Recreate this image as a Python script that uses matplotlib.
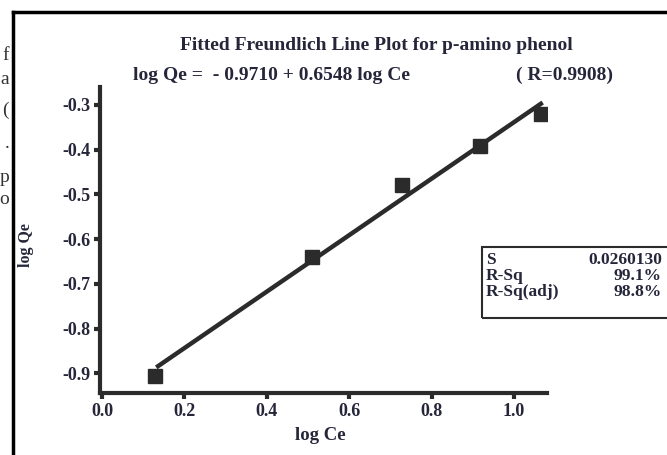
import matplotlib
matplotlib.use("Agg")
import matplotlib.pyplot as plt
import numpy as np

# data
log_ce = [0.129, 0.509, 0.729, 0.917, 1.065]
log_qe = [-0.905, -0.639, -0.479, -0.391, -0.321]
intercept = -0.9710
slope = 0.6548
r_value = 0.9908
x_ticks = [0.0, 0.2, 0.4, 0.6, 0.8, 1.0]
y_ticks = [-0.9, -0.8, -0.7, -0.6, -0.5, -0.4, -0.3]
stat_names = ["S", "R-Sq", "R-Sq(adj)"]
stat_values = ["0.0260130", "99.1%", "98.8%"]
side_text = ["f", "a", "(", ".", "p", "o"]

plt.rcParams["font.family"] = ["Liberation Serif", "DejaVu Serif"]
dark = "#2b2b2b"
ink = "#26263a"
W, H = 667, 455

fig = plt.figure(figsize=(6.67, 4.55), dpi=100)
ax = fig.add_axes([100 / W, 1 - 393 / H, 447 / W, 306 / H])

ax.plot(log_ce, log_qe, "s", color=dark, markersize=10, zorder=3)
# the drawn line follows the points (least squares)
fit_slope, fit_int = np.polyfit(log_ce, log_qe, 1)
xs = np.array([0.136, max(log_ce)])
ax.plot(xs, fit_int + fit_slope * xs, color=dark, lw=3.2, zorder=2)

ax.set_xlim(-0.005, 1.08)
ax.set_ylim(-0.944, -0.26)
ax.set_xticks(x_ticks)
ax.set_xticklabels([f"{v:.1f}" for v in x_ticks])
ax.set_yticks(y_ticks)
ax.set_yticklabels([f"{v:.1f}" for v in y_ticks])
for side in ["top", "right"]:
    ax.spines[side].set_visible(False)
for side in ["left", "bottom"]:
    ax.spines[side].set_linewidth(3)
    ax.spines[side].set_color(dark)
ax.tick_params(direction="out", length=4, width=3, color=dark,
               labelsize=13, labelcolor=ink, pad=3)
for lbl in ax.get_xticklabels() + ax.get_yticklabels():
    lbl.set_fontweight("bold")
ax.set_xlabel("log Ce", fontsize=13.5, fontweight="bold", color=ink)
ax.set_ylabel("log Qe", fontsize=11.5, fontweight="bold", color=ink)
ax.xaxis.set_label_coords((320 - 100) / 447, -(427 - 393) / 306)
ax.yaxis.set_label_coords(-(100 - 34) / 447, (393 - 245) / 306)

# title and equation
fig.text(376 / W, 1 - 46 / H, "Fitted Freundlich Line Plot for p-amino phenol",
         ha="center", va="center", fontsize=14, fontweight="bold", color=ink)
fig.text(133 / W, 1 - 75 / H, f"log Qe =  - {abs(intercept):.4f} + {slope:.4f} log Ce",
         ha="left", va="center", fontsize=14, fontweight="bold", color=ink)
fig.text(516 / W, 1 - 75 / H, f"( R={r_value:.4f})",
         ha="left", va="center", fontsize=14, fontweight="bold", color=ink)

# stats box
box = plt.Rectangle((482 / W, 1 - 318 / H), 200 / W, 71 / H, transform=fig.transFigure,
                    fill=False, edgecolor=dark, lw=1.5, clip_on=False)
fig.add_artist(box)
for i, (name, val) in enumerate(zip(stat_names, stat_values)):
    yy = 1 - (260 + 16 * i) / H
    fig.text(486 / W, yy, name, ha="left", va="center", fontsize=12.5,
             fontweight="bold", color=ink)
    fig.text(662 / W, yy, val, ha="right", va="center", fontsize=12.5,
             fontweight="bold", color=ink)

# page frame and cut text on the left
fig.add_artist(plt.Line2D([13 / W, 13 / W], [0, 1 - 12 / H], transform=fig.transFigure,
                          color="black", lw=2.5))
fig.add_artist(plt.Line2D([13 / W, 1], [1 - 12 / H, 1 - 12 / H], transform=fig.transFigure,
                          color="black", lw=2.5))
for i, t in enumerate(side_text):
    yy = [55, 80, 110, 143, 178, 200][i]
    fig.text(9 / W, 1 - yy / H, t, ha="right", va="center", fontsize=14, color="#333333")

fig.savefig("out.png", dpi=100)
